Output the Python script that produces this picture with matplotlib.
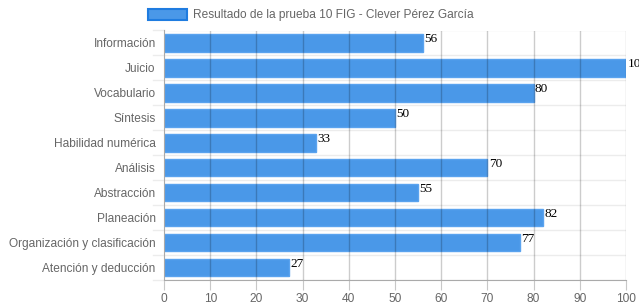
import matplotlib
matplotlib.use("Agg")
import matplotlib.pyplot as plt
from matplotlib.patches import Patch

# data
categories = ["Información", "Juicio", "Vocabulario", "Síntesis", "Habilidad numérica",
              "Análisis", "Abstracción", "Planeación", "Organización y clasificación",
              "Atención y deducción"]
values = [56, 100, 80, 50, 33, 70, 55, 82, 77, 27]
series_name = "Resultado de la prueba 10 FIG - Clever Pérez García"
xticks = [0, 10, 20, 30, 40, 50, 60, 70, 80, 90, 100]

plt.rcParams['font.family'] = ['Liberation Sans', 'DejaVu Sans']
fs = 8.6
grey = "#666666"

fig = plt.figure(figsize=(6.39, 3.08), dpi=100)
ax = fig.add_axes([164/639, 1 - 280/308, 462/639, 249.5/308])

ypos = list(range(len(categories)))
ax.barh(ypos, values, height=0.7, color="#4a98e8", edgecolor="#5aa3ef", linewidth=1, zorder=2)

ax.set_xlim(0, 100)
ax.set_ylim(len(categories) - 0.5, -0.5)
ax.set_xticks(xticks)
ax.set_xticklabels([str(t) for t in xticks], fontsize=fs, color=grey)
ax.set_yticks(ypos)
ax.set_yticklabels(categories, fontsize=fs, color=grey)

# horizontal category separators
for b in range(len(categories) + 1):
    ax.axhline(b - 0.5, color="#ececec", linewidth=1, zorder=1)
    ax.plot([-2.4, 0], [b - 0.5, b - 0.5], color="#ececec", linewidth=1, clip_on=False)
# vertical grid lines, drawn over the bars, semi transparent
for t in xticks[1:]:
    ax.axvline(t, color="black", alpha=0.2, linewidth=1, zorder=3)

ax.tick_params(axis="x", length=7, color="#c8c8c8", pad=2)
ax.tick_params(axis="y", length=0, pad=6)
for s in ["top", "right"]:
    ax.spines[s].set_visible(False)
ax.spines["left"].set_color("#aaaaaa")
ax.spines["bottom"].set_color("#aaaaaa")

# value labels
for y, v in zip(ypos, values):
    ax.text(v + 0.3, y - 0.4, str(v), fontsize=9.5, family="Liberation Serif",
            color="black", ha="left", va="top", clip_on=False, zorder=4)

# legend
handle = Patch(facecolor="#4a98e8", edgecolor="#1f7ce0", linewidth=1.5)
fig.legend([handle], [series_name], loc="center left", bbox_to_anchor=(143/639, 1 - 15/308),
           frameon=False, fontsize=fs, labelcolor=grey, handlelength=3.3, handleheight=1.1,
           handletextpad=0.5, borderaxespad=0)

fig.savefig("out.png", dpi=100)
